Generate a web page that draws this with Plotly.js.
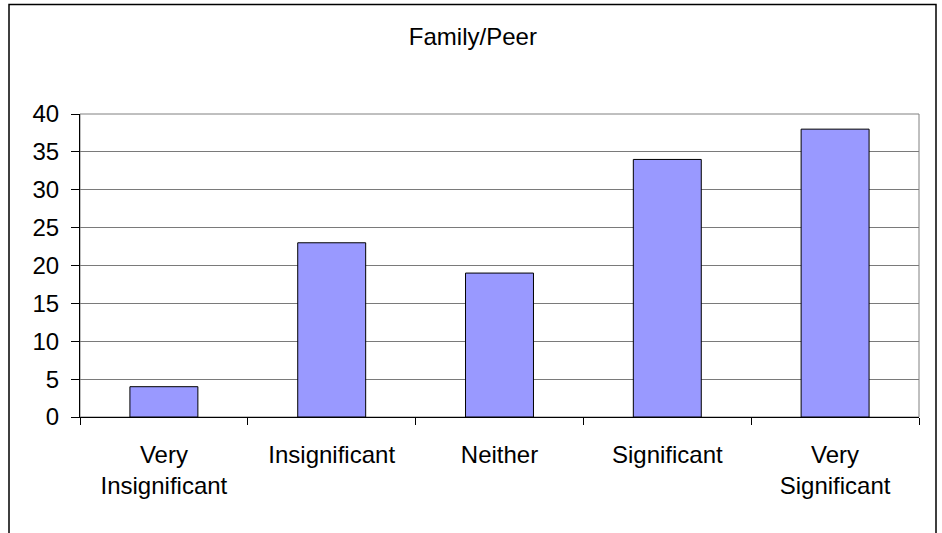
<!DOCTYPE html>
<html>
<head>
<meta charset="utf-8">
<script src="https://cdn.plot.ly/plotly-3.0.1.min.js"></script>
<style>
  html, body { margin: 0; padding: 0; background: #ffffff; overflow: hidden; }
  #chart { width: 942px; height: 533px; }
</style>
</head>
<body>
<div id="chart"></div>
<script>
const categories = ["Very<br>Insignificant", "Insignificant", "Neither", "Significant", "Very<br>Significant"];
const values = [4, 23, 19, 34, 38];
const yTickValues = [0, 5, 10, 15, 20, 25, 30, 35, 40];
const chartTitle = "Family/Peer";

const FONT = "'Liberation Sans', Arial, Helvetica, sans-serif";

const trace = {
  type: "bar",
  x: categories,
  y: values,
  marker: { color: "#9999FF", line: { color: "#000000", width: 1 } },
  hoverinfo: "skip"
};

const layout = {
  width: 942,
  height: 533,
  margin: { l: 80, r: 23, t: 114, b: 116, pad: 0 },
  paper_bgcolor: "#ffffff",
  plot_bgcolor: "#ffffff",
  showlegend: false,
  bargap: 0.595,
  font: { family: FONT, size: 24, color: "#000000" },
  title: {
    text: chartTitle,
    font: { family: FONT, size: 24, color: "#000000" },
    xref: "container", x: 0.502, xanchor: "center",
    yref: "container", y: 1 - 37 / 533, yanchor: "middle"
  },
  xaxis: {
    type: "category",
    showline: true, linecolor: "#000000", linewidth: 1,
    ticks: "outside", ticklen: 7, tickcolor: "#000000", tickwidth: 1,
    tickson: "boundaries",
    showgrid: false, zeroline: false,
    tickfont: { family: FONT, size: 24, color: "#000000" },
    ticklabelstandoff: 16,
    fixedrange: true
  },
  yaxis: {
    range: [0, 40],
    tickmode: "array",
    tickvals: yTickValues,
    ticktext: yTickValues.map(String),
    showline: true, linecolor: "#000000", linewidth: 1,
    ticks: "outside", ticklen: 8, tickcolor: "#000000", tickwidth: 1,
    showgrid: true, gridcolor: "#7a7a7a", gridwidth: 1,
    zeroline: false,
    tickfont: { family: FONT, size: 24, color: "#000000" },
    ticklabelstandoff: 7,
    fixedrange: true
  },
  shapes: [
    { type: "rect", xref: "paper", yref: "paper", x0: 0, x1: 1, y0: 0, y1: 1,
      line: { color: "#808080", width: 1 }, layer: "below" },
    { type: "rect", xref: "paper", yref: "paper",
      x0: (9 - 80) / 839, x1: (936 - 80) / 839,
      y0: (417 - 560) / 303, y1: (417 - 4.5) / 303,
      line: { color: "#000000", width: 1.5 }, fillcolor: "rgba(0,0,0,0)", layer: "above" }
  ]
};

Plotly.newPlot("chart", [trace], layout, { displayModeBar: false, staticPlot: true });
</script>
</body>
</html>
